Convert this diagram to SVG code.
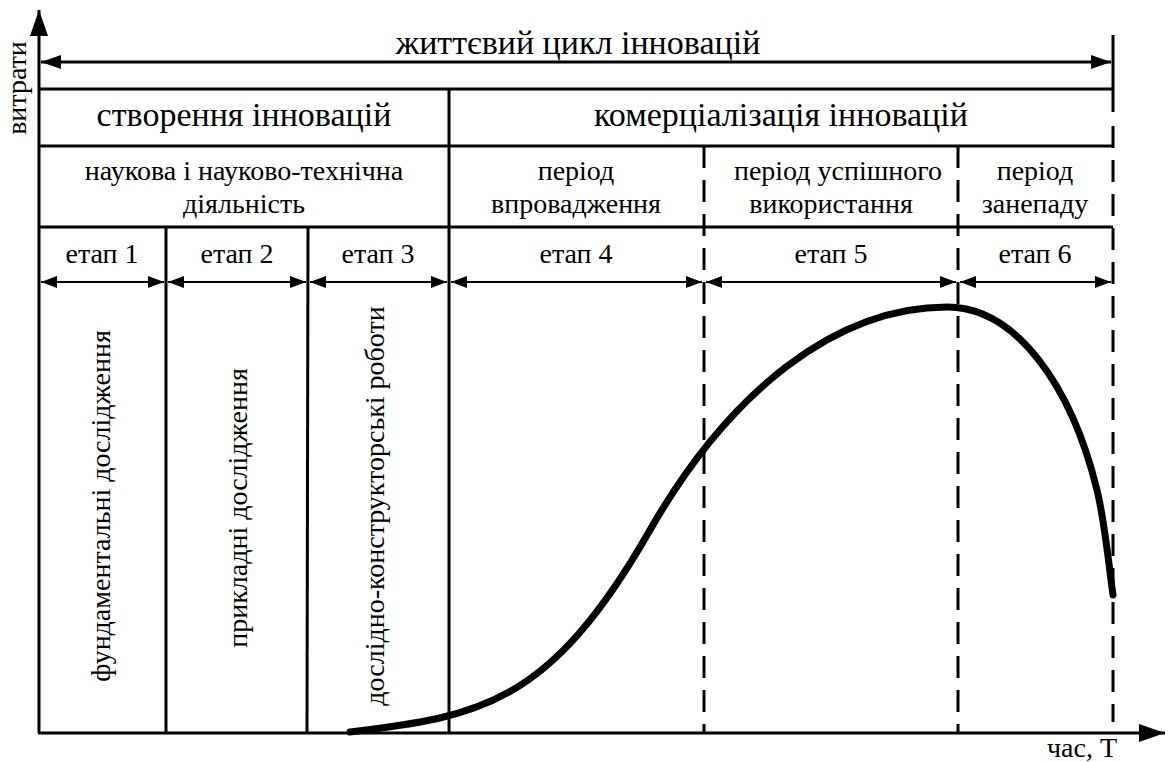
<svg xmlns="http://www.w3.org/2000/svg" width="1168" height="762" viewBox="0 0 1168 762">
<style>
text{font-family:'Liberation Serif','Times New Roman',serif;fill:#000;text-anchor:middle}
.h{font-size:34px}
.s{font-size:28px}
.ln{stroke:#000;stroke-width:3;fill:none}
.dl{stroke:#000;stroke-width:3;fill:none;stroke-dasharray:22 12}
.ar{stroke:#000;stroke-width:2;fill:none;marker-start:url(#ah);marker-end:url(#ah)}
</style>
<defs>
<marker id="ah" markerWidth="16" markerHeight="12" refX="16" refY="6" orient="auto-start-reverse" markerUnits="userSpaceOnUse"><path d="M0,0 L16,6 L0,12 Z" fill="#000"/></marker>
<marker id="ahb" markerWidth="20" markerHeight="14" refX="20" refY="7" orient="auto-start-reverse" markerUnits="userSpaceOnUse"><path d="M0,0 L20,7 L0,14 Z" fill="#000"/></marker>
<marker id="axh" markerWidth="26" markerHeight="18" refX="26" refY="9" orient="auto" markerUnits="userSpaceOnUse"><path d="M0,0 L26,9 L0,18 Z" fill="#000"/></marker>
<clipPath id="c5"><rect x="704" y="146" width="253" height="81"/></clipPath>
</defs>

<g id="grid">
<line class="ln" x1="39" y1="89" x2="1113" y2="89"/>
<line class="ln" x1="39" y1="146" x2="1113" y2="146"/>
<line class="ln" x1="39" y1="227" x2="1113" y2="227"/>
<line class="ln" x1="166" y1="227" x2="166" y2="733"/>
<line class="ln" x1="308" y1="227" x2="307" y2="733"/>
<line class="ln" x1="449" y1="89" x2="449" y2="733"/>
<line class="dl" x1="704" y1="146" x2="704" y2="733"/>
<line class="dl" x1="958" y1="146" x2="958" y2="733"/>
<line class="ln" x1="1113" y1="35" x2="1113" y2="112"/>
<line class="dl" x1="1113" y1="126" x2="1113" y2="722"/>
</g>

<g id="axes">
<line class="ln" x1="39" y1="733" x2="39" y2="10" marker-end="url(#axh)"/>
<line class="ln" x1="38" y1="733" x2="1165" y2="733" marker-end="url(#axh)"/>
<text class="s" transform="translate(26,88) rotate(-90)">витрати</text>
<text class="s" x="1082" y="757">час, Т</text>
</g>

<g id="lifecycle">
<line stroke="#000" stroke-width="3" x1="41" y1="62" x2="1111" y2="62" marker-start="url(#ahb)" marker-end="url(#ahb)"/>
<text class="h" x="578" y="54">життєвий цикл інновацій</text>
</g>

<g id="creation"><text class="h" x="244" y="126">створення інновацій</text></g>
<g id="commercialization"><text class="h" x="781" y="126">комерціалізація інновацій</text></g>

<g id="research"><text class="s" x="244" y="180">наукова і науково-технічна</text><text class="s" x="244" y="213">діяльність</text></g>
<g id="period-intro"><text class="s" x="576" y="180">період</text><text class="s" x="576" y="213">впровадження</text></g>
<g id="period-success" clip-path="url(#c5)"><text class="s" x="838" y="180">період успішного</text><text class="s" x="831" y="213">використання</text></g>
<g id="period-decline"><text class="s" x="1035" y="180">період</text><text class="s" x="1035" y="213">занепаду</text></g>

<g id="stage1"><text class="s" x="102" y="263">етап 1</text><text class="s" transform="translate(110,506) rotate(-90)">фундаментальні дослідження</text></g>
<g id="stage2"><text class="s" x="237" y="263">етап 2</text><text class="s" transform="translate(247,508) rotate(-90)">прикладні дослідження</text></g>
<g id="stage3"><text class="s" x="378" y="263">етап 3</text><text class="s" transform="translate(384,506) rotate(-90)">дослідно-конструкторські роботи</text></g>
<g id="stage4"><text class="s" x="576" y="263">етап 4</text></g>
<g id="stage5"><text class="s" x="831" y="263">етап 5</text></g>
<g id="stage6"><text class="s" x="1035" y="263">етап 6</text></g>

<g id="connectors">
<line class="ar" x1="41" y1="282" x2="164" y2="282"/>
<line class="ar" x1="168" y1="282" x2="306" y2="282"/>
<line class="ar" x1="310" y1="282" x2="447" y2="282"/>
<line class="ar" x1="451" y1="282" x2="702" y2="282"/>
<line class="ar" x1="706" y1="282" x2="956" y2="282"/>
<line class="ar" x1="960" y1="282" x2="1111" y2="282"/>
</g>

<g id="curve">
<path d="M350,732 C480,716.4 550,705 650,530 C730,390 837,307 947,307 C1017,307 1072,387.5 1097,490 C1105,522.8 1110,575 1113,595" fill="none" stroke="#000" stroke-width="7" stroke-linecap="round"/>
</g>
</svg>
